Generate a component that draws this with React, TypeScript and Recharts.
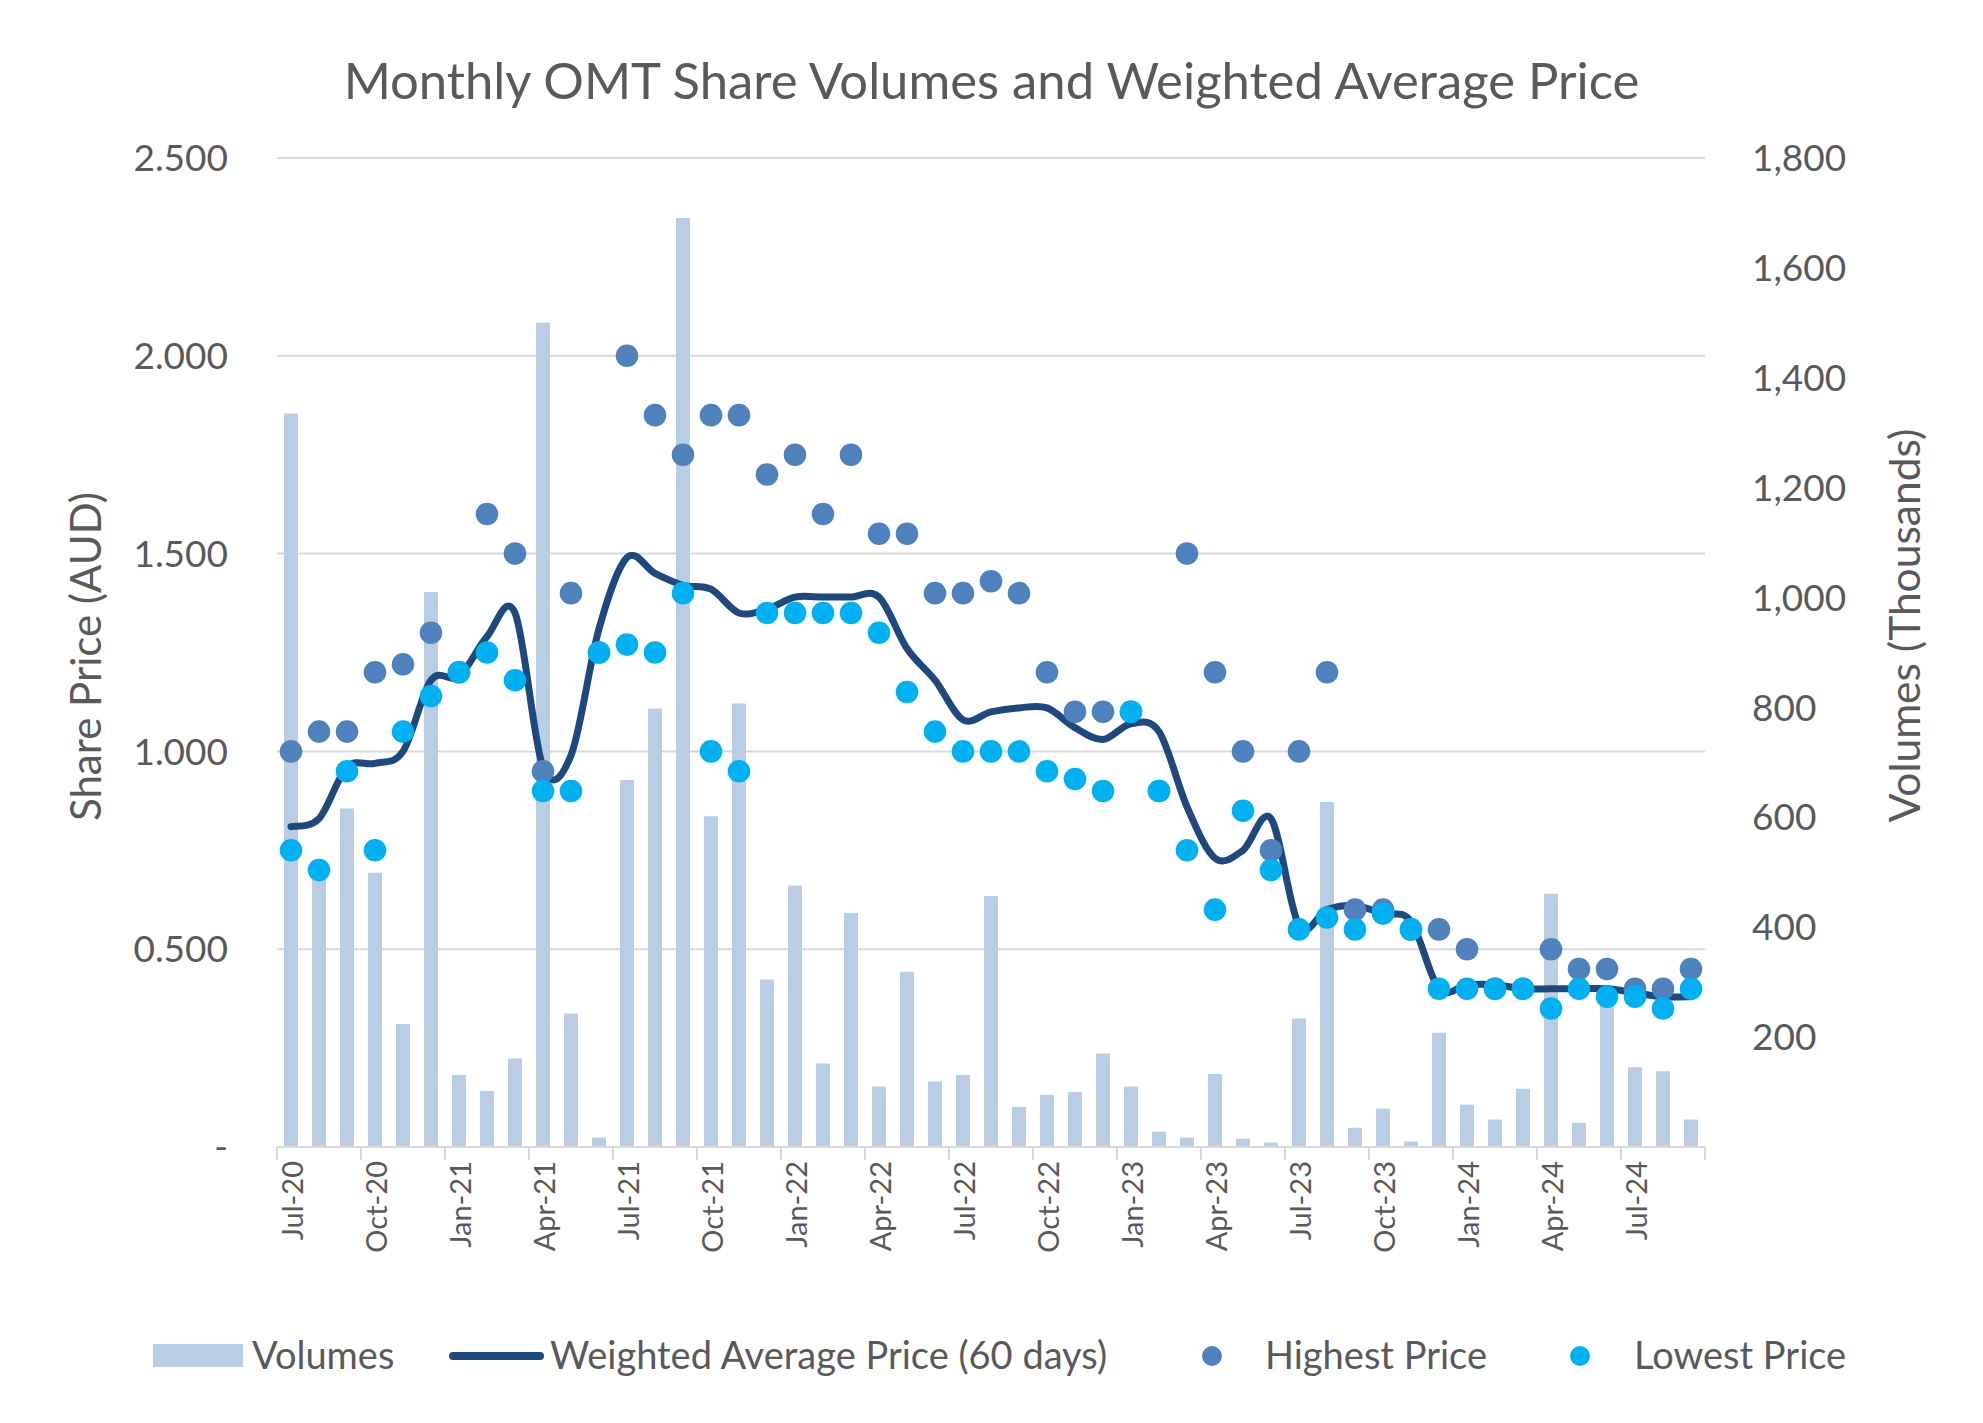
import React from 'react';
import { ComposedChart, Bar, Line, Scatter, XAxis, YAxis, CartesianGrid, Legend } from 'recharts';

const months = [
  'Jul-20','Aug-20','Sep-20','Oct-20','Nov-20','Dec-20',
  'Jan-21','Feb-21','Mar-21','Apr-21','May-21','Jun-21','Jul-21','Aug-21','Sep-21','Oct-21','Nov-21','Dec-21',
  'Jan-22','Feb-22','Mar-22','Apr-22','May-22','Jun-22','Jul-22','Aug-22','Sep-22','Oct-22','Nov-22','Dec-22',
  'Jan-23','Feb-23','Mar-23','Apr-23','May-23','Jun-23','Jul-23','Aug-23','Sep-23','Oct-23','Nov-23','Dec-23',
  'Jan-24','Feb-24','Mar-24','Apr-24','May-24','Jun-24','Jul-24','Aug-24','Sep-24',
];

// Volumes in thousands
const volumes = [
  1335, 500, 616, 499, 224, 1010,
  131, 102, 161, 1500, 243, 17, 668, 798, 1691, 602, 807, 305,
  476, 152, 426, 110, 319, 119, 131, 457, 73, 95, 100, 170,
  110, 28, 17, 133, 15, 8, 234, 628, 35, 70, 10, 208,
  77, 50, 106, 461, 44, 290, 145, 138, 50,
];

const weightedAvg = [
  0.81, 0.83, 0.96, 0.97, 1.00, 1.18,
  1.19, 1.29, 1.35, 0.96, 0.99, 1.31, 1.49, 1.45, 1.42, 1.41, 1.35, 1.36,
  1.39, 1.39, 1.39, 1.39, 1.26, 1.18, 1.08, 1.10, 1.11, 1.11, 1.06, 1.03,
  1.07, 1.05, 0.86, 0.73, 0.75, 0.83, 0.56, 0.60, 0.61, 0.59, 0.57, 0.40,
  0.41, 0.41, 0.40, 0.40, 0.40, 0.40, 0.39, 0.38, 0.38,
];

const highest = [
  1.00, 1.05, 1.05, 1.20, 1.22, 1.30,
  1.20, 1.60, 1.50, 0.95, 1.40, 1.25, 2.00, 1.85, 1.75, 1.85, 1.85, 1.70,
  1.75, 1.60, 1.75, 1.55, 1.55, 1.40, 1.40, 1.43, 1.40, 1.20, 1.10, 1.10,
  1.10, 0.90, 1.50, 1.20, 1.00, 0.75, 1.00, 1.20, 0.60, 0.60, 0.55, 0.55,
  0.50, 0.40, 0.40, 0.50, 0.45, 0.45, 0.40, 0.40, 0.45,
];

const lowest = [
  0.75, 0.70, 0.95, 0.75, 1.05, 1.14,
  1.20, 1.25, 1.18, 0.90, 0.90, 1.25, 1.27, 1.25, 1.40, 1.00, 0.95, 1.35,
  1.35, 1.35, 1.35, 1.30, 1.15, 1.05, 1.00, 1.00, 1.00, 0.95, 0.93, 0.90,
  1.10, 0.90, 0.75, 0.60, 0.85, 0.70, 0.55, 0.58, 0.55, 0.59, 0.55, 0.40,
  0.40, 0.40, 0.40, 0.35, 0.40, 0.38, 0.38, 0.35, 0.40,
];

const priceTicks = [0, 0.5, 1, 1.5, 2, 2.5];
const volumeTicks = [0, 200, 400, 600, 800, 1000, 1200, 1400, 1600, 1800];

const seriesNames = {
  volume: 'Volumes',
  wap: 'Weighted Average Price (60 days)',
  high: 'Highest Price',
  low: 'Lowest Price',
};

const data = months.map((m, i) => ({
  month: m,
  volume: volumes[i],
  wap: weightedAvg[i],
  high: highest[i],
  low: lowest[i],
}));

const W = 1983;
const H = 1423;
const PLOT_LEFT = 277;
const PLOT_RIGHT = 1705;
const PLOT_TOP = 158;
const PLOT_BOTTOM = 1147;
const Y_AXIS_W = 100;
const X_AXIS_H = 120;
const BAND = (PLOT_RIGHT - PLOT_LEFT) / months.length;
const LABEL_STEP = 3;

const FONT = 'Lato, "Open Sans", "DejaVu Sans", sans-serif';
const TXT = '#595959';
const GRID = '#D9D9D9';
const BAR_COLOR = '#B9CDE5';
const LINE_COLOR = '#1F497D';
const HIGH_COLOR = '#4F81BD';
const LOW_COLOR = '#00B0F0';
const DOT_R = 11.3;

const lastShownIndex = (months.length - 1) - ((months.length - 1) % LABEL_STEP);

// Excel-style smoothed line (Catmull-Rom through the points)
const smoothCurve = (context: any) => {
  let pts: number[][] = [];
  return {
    areaStart() {},
    areaEnd() {},
    lineStart() { pts = []; },
    point(x: number, y: number) { pts.push([+x, +y]); },
    lineEnd() {
      if (!pts.length) return;
      context.moveTo(pts[0][0], pts[0][1]);
      for (let i = 0; i < pts.length - 1; i++) {
        const p0 = pts[i - 1] || pts[i];
        const p1 = pts[i];
        const p2 = pts[i + 1];
        const p3 = pts[i + 2] || p2;
        const c1x = p1[0] + (p2[0] - p0[0]) / 6;
        const c1y = p1[1] + (p2[1] - p0[1]) / 6;
        const c2x = p2[0] - (p3[0] - p1[0]) / 6;
        const c2y = p2[1] - (p3[1] - p1[1]) / 6;
        context.bezierCurveTo(c1x, c1y, c2x, c2y, p2[0], p2[1]);
      }
    },
  };
};

const XTick = (props: any) => {
  const { x, y, payload } = props;
  const left = x - BAND / 2;
  const isLast = payload.value === months[lastShownIndex];
  const extraX = x + (months.length - lastShownIndex) * BAND - BAND / 2;
  return (
    <g>
      <line x1={left} x2={left} y1={y} y2={y + 13} stroke={GRID} strokeWidth={2} />
      {isLast && <line x1={extraX} x2={extraX} y1={y} y2={y + 13} stroke={GRID} strokeWidth={2} />}
      <text
        x={x}
        y={y + 14}
        transform={`rotate(-90, ${x}, ${y + 14})`}
        textAnchor="end"
        dominantBaseline="central"
        fill={TXT}
        fontSize={29}
        fontFamily={FONT}
      >
        {payload.value}
      </text>
    </g>
  );
};

const LegendContent = () => {
  const top = 1316;
  const cy = 1356 - top;
  const base = cy + 13;
  const ts = { fill: TXT, fontSize: 38, fontFamily: FONT } as any;
  return (
    <svg width={W} height={80} style={{ display: 'block' }}>
      <rect x={153} y={cy - 12} width={90} height={23} fill={BAR_COLOR} />
      <text x={252} y={base} {...ts}>{seriesNames.volume}</text>
      <line x1={453} x2={540} y1={cy} y2={cy} stroke={LINE_COLOR} strokeWidth={8} strokeLinecap="round" />
      <text x={550} y={base} {...ts}>{seriesNames.wap}</text>
      <circle cx={1212} cy={cy} r={10} fill={HIGH_COLOR} />
      <text x={1265} y={base} {...ts}>{seriesNames.high}</text>
      <circle cx={1580} cy={cy} r={10} fill={LOW_COLOR} />
      <text x={1634} y={base} {...ts}>{seriesNames.low}</text>
    </svg>
  );
};

const dot = (color: string) => (p: any) => (
  <circle cx={p.cx} cy={p.cy} r={DOT_R} fill={color} stroke="none" />
);

export default function App() {
  return (
    <div style={{ position: 'absolute', left: 0, top: 0, width: W, height: H, background: '#fff' }}>
      <div
        style={{
          position: 'absolute',
          left: 0,
          top: 50,
          width: W,
          height: 60,
          lineHeight: '60px',
          textAlign: 'center',
          fontFamily: FONT,
          fontSize: 50.8,
          color: TXT,
          zIndex: 2,
        }}
      >
        Monthly OMT Share Volumes and Weighted Average Price
      </div>
      <ComposedChart
        width={W}
        height={H}
        data={data}
        margin={{
          top: PLOT_TOP,
          left: PLOT_LEFT - Y_AXIS_W,
          right: W - PLOT_RIGHT - Y_AXIS_W,
          bottom: H - PLOT_BOTTOM - X_AXIS_H,
        }}
        barSize={14}
      >
        <CartesianGrid vertical={false} yAxisId="left" stroke={GRID} strokeWidth={2} />
        <XAxis
          dataKey="month"
          height={X_AXIS_H}
          interval={LABEL_STEP - 1}
          tick={<XTick />}
          tickLine={false}
          tickSize={0}
          tickMargin={0}
          axisLine={{ stroke: GRID, strokeWidth: 2 }}
        />
        <YAxis
          yAxisId="left"
          orientation="left"
          width={Y_AXIS_W}
          domain={[0, 2.5]}
          ticks={priceTicks}
          tickFormatter={(v: number) => (v === 0 ? '-' : v.toFixed(3))}
          tick={{ fill: TXT, fontSize: 37, fontFamily: FONT }}
          tickLine={false}
          axisLine={false}
          tickSize={0}
          tickMargin={49}
          label={{
            content: ({ viewBox }: any) => {
              const x = viewBox.x - 92;
              const y = viewBox.y + viewBox.height / 2 + 4;
              return (
                <text x={x} y={y} transform={`rotate(-90, ${x}, ${y})`} textAnchor="middle" dominantBaseline="central" fill={TXT} fontSize={42} fontFamily={FONT}>
                  Share Price (AUD)
                </text>
              );
            },
          }}
        />
        <YAxis
          yAxisId="right"
          orientation="right"
          width={Y_AXIS_W}
          domain={[0, 1800]}
          ticks={volumeTicks}
          tickFormatter={(v: number) => (v === 0 ? '' : v.toLocaleString('en-US'))}
          tick={{ fill: TXT, fontSize: 37, fontFamily: FONT }}
          tickLine={false}
          axisLine={false}
          tickSize={0}
          tickMargin={47}
          label={{
            content: ({ viewBox }: any) => {
              const x = PLOT_RIGHT + 198;
              const y = viewBox.y + viewBox.height / 2 - 27;
              return (
                <text x={x} y={y} transform={`rotate(-90, ${x}, ${y})`} textAnchor="middle" dominantBaseline="central" fill={TXT} fontSize={42.5} fontFamily={FONT}>
                  Volumes (Thousands)
                </text>
              );
            },
          }}
        />
        <Legend
          verticalAlign="middle"
          layout="horizontal"
          content={<LegendContent />}
          wrapperStyle={{ left: 0, top: 1316, width: W, height: 80, margin: 0 }}
        />
        <Bar yAxisId="right" dataKey="volume" name={seriesNames.volume} fill={BAR_COLOR} isAnimationActive={false} />
        <Line
          yAxisId="left"
          dataKey="wap"
          name={seriesNames.wap}
          type={smoothCurve as any}
          stroke={LINE_COLOR}
          strokeWidth={7}
          strokeLinecap="round"
          strokeLinejoin="round"
          dot={false}
          activeDot={false}
          isAnimationActive={false}
        />
        <Scatter yAxisId="left" dataKey="high" name={seriesNames.high} fill={HIGH_COLOR} shape={dot(HIGH_COLOR)} isAnimationActive={false} />
        <Scatter yAxisId="left" dataKey="low" name={seriesNames.low} fill={LOW_COLOR} shape={dot(LOW_COLOR)} isAnimationActive={false} />
      </ComposedChart>
    </div>
  );
}
